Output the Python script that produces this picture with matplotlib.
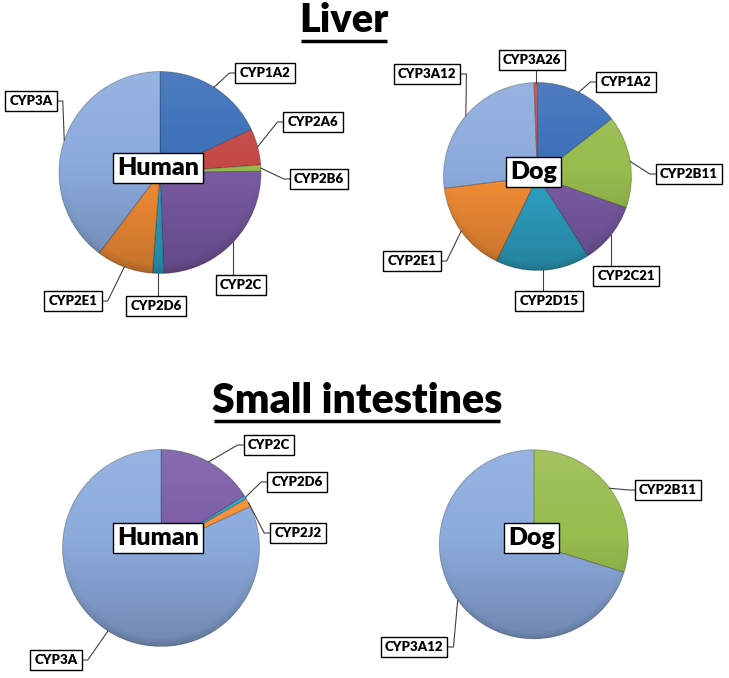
import numpy as np
import matplotlib.pyplot as plt
from matplotlib.patches import Circle

# Liver - human
hl_names = ['CYP1A2', 'CYP2A6', 'CYP2B6', 'CYP2C', 'CYP2D6', 'CYP2E1', 'CYP3A']
hl_vals = [18.0, 5.8, 1.0, 24.6, 1.8, 9.1, 39.7]
# Liver - dog
dl_names = ['CYP1A2', 'CYP2B11', 'CYP2C21', 'CYP2D15', 'CYP2E1', 'CYP3A12', 'CYP3A26']
dl_vals = [14.5, 15.9, 10.6, 16.2, 15.8, 26.4, 0.6]
# Small intestines - human
hi_names = ['CYP2C', 'CYP2D6', 'CYP2J2', 'CYP3A']
hi_vals = [16.1, 0.6, 1.4, 81.9]
# Small intestines - dog
di_names = ['CYP2B11', 'CYP3A12']
di_vals = [29.8, 70.2]

BLUE = '#3A6FB8'
RED = '#C44A46'
GREEN = '#98BC4E'
PURPLE = '#7B5CA6'
CYAN = '#2FA4C6'
ORANGE = '#F68F36'
LBLUE = '#8CABDD'

hl_cols = [BLUE, RED, GREEN, PURPLE, CYAN, ORANGE, LBLUE]
dl_cols = [BLUE, GREEN, PURPLE, CYAN, ORANGE, LBLUE, RED]
hi_cols = [PURPLE, CYAN, ORANGE, LBLUE]
di_cols = [GREEN, LBLUE]

FONT = ['Lato', 'DejaVu Sans']
W, H = 729, 678

fig = plt.figure(figsize=(W / 100, H / 100), dpi=100)
ax = fig.add_axes([0, 0, 1, 1])


def shade(cx, cy, r):
    # soft top-to-bottom gradient like the office 3-D pie style
    n = 200
    yy, xx = np.mgrid[-1:1:n * 1j, -1:1:n * 1j]
    v = (yy + 1) / 2
    mid = 0.45
    img = np.zeros((n, n, 4))
    top = v < mid
    img[..., :3] = np.where(top[..., None], 1.0, 0.0)
    alpha = np.where(top, 0.10 * (mid - v) / mid, 0.20 * (v - mid) / (1 - mid))
    rr = np.sqrt(xx ** 2 + yy ** 2)
    edge = np.clip((rr - 0.92) / 0.08, 0, 1)
    alpha = alpha + 0.10 * edge * np.clip(yy, 0, 1)
    img[..., 3] = alpha
    im = ax.imshow(img, extent=(cx - r, cx + r, cy + r, cy - r), origin='upper',
                   zorder=2, interpolation='bilinear')
    im.set_clip_path(Circle((cx, cy), r, transform=ax.transData))


def draw_pie(vals, names, cols, cx, cy, r, boxes, modes, animal, apos):
    wedges, _ = ax.pie(vals, colors=cols, center=(cx, cy), radius=r,
                       startangle=-90, counterclock=True,
                       wedgeprops=dict(edgecolor=(0, 0, 0, 0.25), linewidth=0.7, zorder=1))
    shade(cx, cy, r)
    labels = []
    for w, name, (bx, by), m in zip(wedges, names, boxes, modes):
        t = ax.text(bx, by, name, ha='center', va='center', fontsize=9.5,
                    fontweight='heavy', family=FONT, zorder=5,
                    bbox=dict(boxstyle='square,pad=0.32', fc='white', ec='black', lw=1.0))
        labels.append((w, t, m))
    ax.text(apos[0], apos[1], animal, ha='center', va='center', fontsize=18,
            fontweight='heavy', family=FONT, zorder=5,
            bbox=dict(boxstyle='square,pad=0.16', fc='white', ec='black', lw=1.0))
    return (cx, cy, r, labels)


pies = []
pies.append(draw_pie(hl_vals, hl_names, hl_cols, 160, 172.5, 101,
                     [(265, 73), (313, 122), (319, 179), (241, 285), (156, 306), (73, 301), (31, 101)],
                     ['l', 'l', 'l', 't', 't', 'r', 'r'], 'Human', (158, 168)))
pies.append(draw_pie(dl_vals, dl_names, dl_cols, 537.5, 176.5, 94,
                     [(626, 82), (689, 174), (626, 276), (549, 301), (412, 261), (427, 74), (532, 60)],
                     ['l', 'l', 't', 't', 'r', 'r', 'b'], 'Dog', (534, 172)))
pies.append(draw_pie(hi_vals, hi_names, hi_cols, 161, 548, 98.5,
                     [(269, 445), (297, 482), (298, 533), (56, 660)],
                     ['l', 'l', 'l', 'r'], 'Human', (158, 538)))
pies.append(draw_pie(di_vals, di_names, di_cols, 533.8, 544.3, 94.5,
                     [(668, 490), (414, 647)],
                     ['l', 'r'], 'Dog', (532, 538)))

t1 = ax.text(344, 21, 'Liver', ha='center', va='center', fontsize=28.5,
             fontweight='heavy', family=FONT)
t2 = ax.text(357, 401, 'Small intestines', ha='center', va='center', fontsize=29.5,
             fontweight='heavy', family=FONT)

ax.set_xlim(0, W)
ax.set_ylim(H, 0)
ax.set_aspect('equal')
ax.axis('off')

fig.canvas.draw()
inv = ax.transData.inverted()


def data_box(artist):
    bb = artist.get_window_extent()
    (x0, y1), (x1, y0) = inv.transform([[bb.x0, bb.y0], [bb.x1, bb.y1]])
    return x0, x1, y0, y1  # y0 top, y1 bottom in data (inverted axis)


for cx, cy, r, labels in pies:
    for w, t, m in labels:
        ang = np.deg2rad((w.theta1 + w.theta2) / 2)
        px, py = cx + r * np.cos(ang), cy + r * np.sin(ang)
        x0, x1, y0, y1 = data_box(t.get_bbox_patch())
        by = (y0 + y1) / 2
        if m == 'l':
            xs, ys = [px, x0 - 6, x0], [py, by, by]
        elif m == 'r':
            xs, ys = [px, x1 + 6, x1], [py, by, by]
        else:
            lx = min(max(px, x0 + 4), x1 - 4)
            dy = np.sqrt(max(r ** 2 - (lx - cx) ** 2, 0))
            if m == 't':
                xs, ys = [lx, lx], [y0, cy + dy]
            else:
                xs, ys = [lx, lx], [y1, cy - dy]
        ax.plot(xs, ys, color='#404040', lw=0.8, zorder=4)

for t in (t1, t2):
    x0, x1, y0, y1 = data_box(t)
    ax.plot([x0 + 2, x1 - 2], [y1 + 1, y1 + 1], color='black', lw=2.5,
            solid_capstyle='butt')

ax.set_xlim(0, W)
ax.set_ylim(H, 0)
fig.savefig('out.png', dpi=100, facecolor='white')
